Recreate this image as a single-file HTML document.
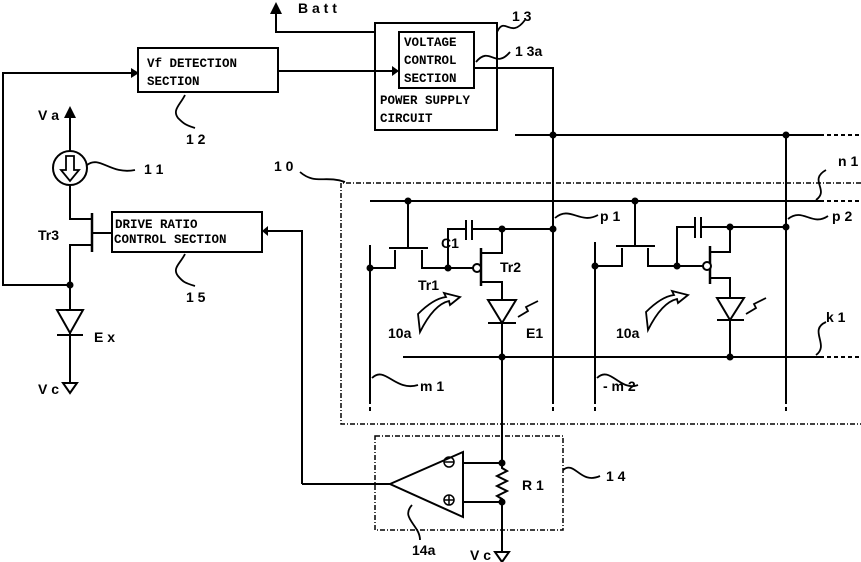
<!DOCTYPE html>
<html><head><meta charset="utf-8"><style>
body{margin:0;background:#fff}
svg{display:block}
text{font-family:"Liberation Sans",sans-serif;font-weight:bold;font-size:14px;fill:#000}
.m{font-family:"Liberation Mono",monospace;font-size:12.5px;font-weight:bold}
</style></head><body>
<svg width="861" height="562" viewBox="0 0 861 562" xmlns="http://www.w3.org/2000/svg">
<g stroke="#000" stroke-width="2" fill="none">
<polyline points="276,14 276,32 375,32"/>
<rect x="375" y="23" width="122" height="107"/>
<rect x="399" y="32" width="75" height="56"/>
<line x1="278" y1="71" x2="392" y2="71"/>
<polyline points="474,68 553,68 553,400"/>
<rect x="138" y="48" width="140" height="44"/>
<polyline points="70,285 3,285 3,73 131,73"/>
<line x1="70" y1="118" x2="70" y2="151"/>
<circle cx="70" cy="168" r="17"/>
<polyline points="70,185 70,219 92,219"/>
<line x1="92" y1="213" x2="92" y2="252" stroke-width="2.5"/>
<line x1="92" y1="233" x2="112" y2="233"/>
<polyline points="92,245 70,245 70,310"/>
<rect x="112" y="212" width="150" height="40"/>
<line x1="70" y1="333" x2="70" y2="383"/>
<line x1="57" y1="335" x2="83" y2="335"/>
<polyline points="302,484 302,231 268,231"/>
<line x1="515" y1="135" x2="820" y2="135"/>
<line x1="786" y1="135" x2="786" y2="400"/>
<line x1="370" y1="201" x2="820" y2="201"/>
<line x1="403" y1="357" x2="820" y2="357"/>
<line x1="370" y1="245" x2="370" y2="400"/>
<line x1="595" y1="242" x2="595" y2="400"/>
<line x1="408" y1="201" x2="408" y2="248"/>
<line x1="389" y1="248" x2="428" y2="248"/>
<polyline points="370,268 395,268 395,250"/>
<polyline points="422,250 422,268 473,268"/>
<polyline points="448,268 448,229 466,229"/>
<line x1="466" y1="220" x2="466" y2="240"/>
<line x1="472" y1="220" x2="472" y2="240"/>
<line x1="472" y1="229" x2="553" y2="229"/>
<line x1="481" y1="248" x2="481" y2="286" stroke-width="2.5"/>
<polyline points="481,253 502,253 502,229"/>
<polyline points="481,282 502,282 502,300"/>
<line x1="488" y1="323" x2="516" y2="323"/>
<line x1="502" y1="323" x2="502" y2="463"/>
<line x1="635" y1="201" x2="635" y2="246"/>
<line x1="616" y1="246" x2="655" y2="246"/>
<polyline points="595,266 622,266 622,248"/>
<polyline points="648,248 648,266 703,266"/>
<polyline points="677,266 677,227 695,227"/>
<line x1="695" y1="217" x2="695" y2="238"/>
<line x1="701" y1="217" x2="701" y2="238"/>
<line x1="701" y1="227" x2="786" y2="227"/>
<line x1="710" y1="246" x2="710" y2="284" stroke-width="2.5"/>
<polyline points="710,252 730,252 730,227"/>
<polyline points="710,278 730,278 730,298"/>
<line x1="717" y1="320" x2="744" y2="320"/>
<line x1="730" y1="320" x2="730" y2="357"/>
<polygon points="390,484 463,452 463,517"/>
<line x1="302" y1="484" x2="390" y2="484"/>
<polyline points="463,463 502,463"/>
<polyline points="463,502 502,502 502,552"/>
<polyline points="502,463 502,468 507,471 497,476 507,481 497,486 507,491 497,496 502,499 502,502"/>
<circle cx="449" cy="462" r="5" stroke-width="1.5"/><line x1="444" y1="462" x2="454" y2="462" stroke-width="1.5"/>
<circle cx="449" cy="500" r="5" stroke-width="1.5"/><line x1="444" y1="500" x2="454" y2="500" stroke-width="1.5"/><line x1="449" y1="495" x2="449" y2="505" stroke-width="1.5"/>
</g>
<g stroke="#000" stroke-width="2" fill="none" stroke-dasharray="4,3">
<line x1="820" y1="135" x2="861" y2="135"/>
<line x1="820" y1="201" x2="861" y2="201"/>
<line x1="820" y1="357" x2="861" y2="357"/>
<line x1="553" y1="400" x2="553" y2="414"/>
<line x1="786" y1="400" x2="786" y2="414"/>
<line x1="370" y1="400" x2="370" y2="414"/>
<line x1="595" y1="400" x2="595" y2="414"/>
</g>
<g stroke="#000" stroke-width="1.5" fill="none" stroke-dasharray="5,2,1,2">
<polyline points="861,183 341,183 341,424 861,424"/>
<rect x="375" y="436" width="188" height="94"/>
</g>
<g fill="#fff" stroke="#000" stroke-width="2">
<polygon points="57,310 83,310 70,333"/>
<polygon points="488,300 516,300 502,323"/>
<polygon points="717,298 744,298 730,320"/>
<polygon points="63,383 77,383 70,393"/>
<polygon points="495,552 509,552 502,562"/>
<circle cx="477" cy="268" r="4"/>
<circle cx="707" cy="266" r="4"/>
</g>
<g fill="#000">
<polygon points="270,14 282,14 276,2"/>
<polygon points="64,118 76,118 70,106"/>
<polygon points="131,68 139,73 131,78"/>
<polygon points="392,66 399,71 392,76"/>
<polygon points="268,226 262,231 268,236"/>
<circle cx="70" cy="285" r="3.5"/>
<circle cx="553" cy="135" r="3.5"/><circle cx="786" cy="135" r="3.5"/>
<circle cx="408" cy="201" r="3.5"/><circle cx="635" cy="201" r="3.5"/>
<circle cx="370" cy="268" r="3.5"/><circle cx="448" cy="268" r="3.5"/>
<circle cx="502" cy="229" r="3.5"/><circle cx="553" cy="229" r="3.5"/>
<circle cx="502" cy="357" r="3.5"/><circle cx="730" cy="357" r="3.5"/>
<circle cx="595" cy="266" r="3.5"/><circle cx="677" cy="266" r="3.5"/>
<circle cx="730" cy="227" r="3.5"/><circle cx="786" cy="227" r="3.5"/>
<circle cx="502" cy="463" r="3.5"/><circle cx="502" cy="502" r="3.5"/>
</g>
<path d="M66,156 L74,156 L74,170 L79,170 L70,181 L61,170 L66,170 Z" fill="none" stroke="#000" stroke-width="1.8"/>
<g stroke="#000" stroke-width="1.8" fill="none">
<path d="M518,317 L528,311 L526,307 L538,301"/>
<path d="M746,314 L756,308 L754,304 L766,298"/>
<path d="M420,332 L418,314 C428,304 438,298 446,297 L444,293 L460,297 L450,305 L449,301 C440,303 430,312 420,332 Z"/>
<path d="M648,330 L646,312 C656,302 666,296 674,295 L672,291 L688,295 L678,303 L677,299 C668,301 658,310 648,330 Z"/>
<path d="M185,95 C180,105 172,110 178,118 C183,123 185,125 195,128"/>
<path d="M185,254 C180,264 172,268 178,276 C183,282 185,283 195,286"/>
<path d="M87,165 C100,155 110,175 135,170"/>
<path d="M300,172 C315,185 325,175 345,182"/>
<path d="M497,32 C505,15 510,40 525,20"/>
<path d="M476,62 C490,45 495,70 510,52"/>
<path d="M555,218 C570,205 580,225 598,215"/>
<path d="M788,219 C803,207 812,227 828,216"/>
<path d="M372,378 C385,365 395,392 418,385"/>
<path d="M597,378 C610,365 620,392 638,385"/>
<path d="M816,200 C830,190 808,180 826,170"/>
<path d="M816,355 C830,345 808,330 826,322"/>
<path d="M563,470 C575,460 580,485 600,476"/>
<path d="M412,505 C400,518 420,525 420,540"/>
</g>
<text x="298" y="13">B a t t</text>
<text x="512" y="21">1 3</text>
<text x="515" y="56">1 3a</text>
<text class="m" x="404" y="46">VOLTAGE</text>
<text class="m" x="404" y="64">CONTROL</text>
<text class="m" x="404" y="82">SECTION</text>
<text class="m" x="380" y="104">POWER SUPPLY</text>
<text class="m" x="380" y="122">CIRCUIT</text>
<text class="m" x="147" y="67">Vf DETECTION</text>
<text class="m" x="147" y="85">SECTION</text>
<text class="m" x="115" y="228">DRIVE RATIO</text>
<text class="m" x="114" y="243">CONTROL SECTION</text>
<text x="186" y="144">1 2</text>
<text x="144" y="174">1 1</text>
<text x="274" y="171">1 0</text>
<text x="186" y="302">1 5</text>
<text x="38" y="120">V a</text>
<text x="38" y="240">Tr3</text>
<text x="94" y="342">E x</text>
<text x="38" y="394">V c</text>
<text x="441" y="248">C1</text>
<text x="418" y="290">Tr1</text>
<text x="500" y="272">Tr2</text>
<text x="388" y="338">10a</text>
<text x="526" y="338">E1</text>
<text x="616" y="338">10a</text>
<text x="420" y="391">m 1</text>
<text x="603" y="391">- m 2</text>
<text x="600" y="221">p 1</text>
<text x="832" y="221">p 2</text>
<text x="838" y="166">n 1</text>
<text x="826" y="322">k 1</text>
<text x="522" y="490">R 1</text>
<text x="606" y="481">1 4</text>
<text x="412" y="555">14a</text>
<text x="470" y="560">V c</text>
</svg>
</body></html>
